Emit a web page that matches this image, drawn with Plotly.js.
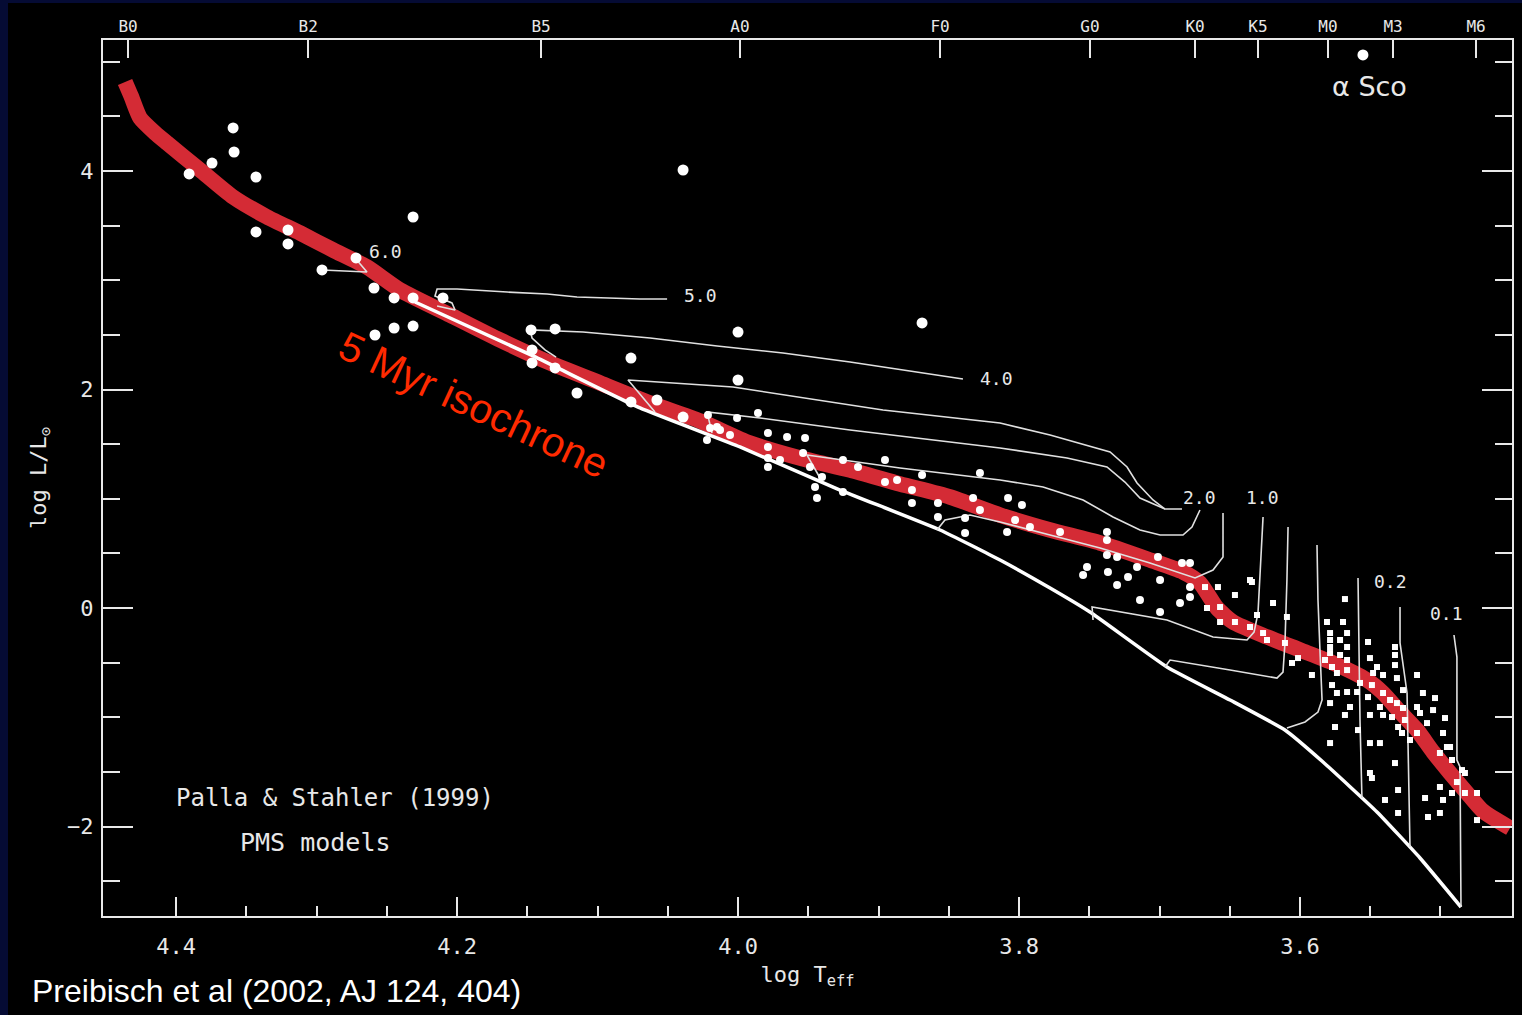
<!DOCTYPE html>
<html>
<head>
<meta charset="utf-8">
<script src="https://cdn.plot.ly/plotly-3.0.1.min.js"></script>
<style>
  html, body { margin: 0; padding: 0; width: 1522px; height: 1015px; overflow: hidden; background: #050b34; }
  #hrd { position: absolute; left: 8px; top: 3px; width: 1514px; height: 1012px; }
</style>
</head>
<body>
<div id="hrd"></div>
<script>
// 5 Myr isochrone (log Teff, log L/Lsun)
const isoLogT = [4.4363,4.4320,4.4256,4.4149,4.4064,4.3829,4.3594,4.3352,4.3117,4.2883,4.2641,4.2406,4.2050,4.1694,4.1338,4.0982,4.0626,4.0270,3.9915,3.9559,3.9203,3.8847,3.8491,3.8135,3.7779,3.7423,3.7068,3.6833,3.6712,3.6591,3.6477,3.6235,3.6000,3.5765,3.5523,3.5409,3.5288,3.5167,3.5053,3.4932,3.4811,3.4698,3.4505];
const isoLogL = [4.815,4.686,4.485,4.348,4.256,4.009,3.762,3.579,3.432,3.277,3.121,2.911,2.682,2.453,2.243,2.059,1.876,1.712,1.510,1.373,1.263,1.135,1.016,0.851,0.714,0.595,0.439,0.330,0.229,0.000,-0.128,-0.265,-0.384,-0.503,-0.659,-0.778,-0.952,-1.117,-1.318,-1.510,-1.693,-1.858,-2.014];

// Zero-age main sequence
const zamsLogT = [4.2299,4.1459,4.0698,3.9986,3.9274,3.8562,3.8135,3.7779,3.7495,3.6947,3.6498,3.6107,3.5836,3.5452,3.5146,3.4854];
const zamsLogL = [2.801,2.307,1.831,1.474,1.080,0.714,0.439,0.183,-0.037,-0.540,-0.842,-1.117,-1.410,-1.867,-2.288,-2.737];

// Palla & Stahler (1999) pre-main-sequence tracks, one pair per mass
const track6T = [4.2961,4.2641,4.2726];
const track6L = [3.094,3.076,3.204];
const track5T = [4.0505,4.0698,4.1146,4.1359,4.1644,4.2000,4.2142,4.2157,4.2036,4.2014,4.2142];
const track5L = [2.828,2.828,2.847,2.874,2.892,2.920,2.920,2.856,2.792,2.728,2.764];
const track4T = [3.8399,3.8726,3.9203,3.9680,4.0149,4.0626,4.1103,4.1480,4.1466,4.1374,4.1295];
const track4L = [2.096,2.160,2.252,2.334,2.398,2.471,2.526,2.545,2.471,2.362,2.297];
const track3T = [4.0591,4.0783,4.0036,3.8968,3.8135,3.7779,3.7352,3.7231,3.7160,3.7046,3.6961,3.6840];
const track3L = [1.794,2.087,2.023,1.812,1.693,1.584,1.428,1.291,1.144,0.989,0.906,0.906];
const track25T = [4.0185,4.0221,3.9843,3.9203,3.8135,3.7658,3.7374,3.7246,3.7139,3.6961];
const track25L = [1.602,1.794,1.739,1.629,1.465,1.373,1.291,1.153,1.007,0.906];
const track2T = [3.9416,3.9509,3.8847,3.8135,3.7829,3.7544,3.7331,3.7139,3.6996,3.6833,3.6769,3.6733,3.6712];
const track2L = [1.190,1.400,1.281,1.172,1.108,0.989,0.833,0.714,0.668,0.668,0.741,0.833,0.897];
const track15T = [3.6548,3.6548,3.6619,3.6747,3.7068,3.7423,3.7779,3.8135,3.8349,3.8527,3.8584];
const track15L = [0.870,0.467,0.348,0.275,0.412,0.549,0.668,0.787,0.851,0.805,0.714];
const track1T = [3.7473,3.7480,3.6947,3.6619,3.6377,3.6327,3.6299,3.6285,3.6270,3.6263];
const track1L = [-0.110,0.009,-0.110,-0.265,-0.293,-0.220,-0.046,0.256,0.622,0.833];
const track07T = [3.6961,3.6925,3.6498,3.6164,3.6121,3.6107,3.6093,3.6085];
const track07L = [-0.540,-0.476,-0.568,-0.641,-0.586,-0.320,0.256,0.741];
const track05T = [3.5879,3.5872,3.5858,3.5843,3.5872,3.5964,3.6093];
const track05L = [0.577,0.073,-0.384,-0.842,-0.952,-1.043,-1.098];
const track03T = [3.5587,3.5580,3.5573,3.5559];
const track03L = [0.275,-0.384,-1.025,-1.739];
const track02T = [3.5288,3.5288,3.5238,3.5231,3.5217];
const track02L = [0.009,-0.320,-0.778,-1.391,-2.188];
const track01T = [3.4904,3.4883,3.4883,3.4861,3.4854];
const track01L = [-0.247,-0.449,-1.391,-1.455,-2.737];

// Mass labels written next to the tracks (solar masses)
const massLabelText = ['6.0','5.0','4.0','2.0','1.0','0.2','0.1'];
const massLabelLogT = [4.2512,4.0270,3.8157,3.6712,3.6270,3.5359,3.4954];
const massLabelLogL = [3.259,2.856,2.105,1.007,1.007,0.247,-0.046];

// Upper Sco members: B stars
const brightLogT = [4.3594,4.3587,4.3744,4.3907,4.3431,4.2313,4.3431,4.3203,4.3203,4.2719,4.2961,4.2591,4.2448,4.2313,4.2100,4.2584,4.2448,4.2313,4.0391,4.1473,4.1302,4.1466,4.1466,4.1302,4.1146,4.0762,4.0762,4.0577,4.0391,4.0000,3.8690,4.0000];
const brightLogL = [4.394,4.174,4.073,3.973,3.945,3.579,3.442,3.460,3.332,3.204,3.094,2.929,2.838,2.838,2.838,2.499,2.563,2.581,4.009,2.545,2.554,2.362,2.243,2.197,1.968,2.288,1.886,1.904,1.748,2.526,2.609,2.087];

// Upper Sco members: A to K stars
const midLogT = [4.0214,3.9858,4.0221,4.0150,4.0007,4.0128,4.0057,4.0199,3.9787,3.9787,3.9787,3.9787,3.9651,3.9523,3.9537,3.9701,3.9488,3.9402,3.9452,3.9438,3.9253,3.9146,3.8954,3.9253,3.8954,3.8868,3.8690,3.8762,3.8762,3.8577,3.8577,3.8384,3.8384,3.8327,3.8278,3.8278,3.8078,3.7979,3.8085,3.8028,3.7922,3.7708,3.7374,3.7374,3.7374,3.7302,3.7516,3.7544,3.7367,3.7302,3.7224,3.7160,3.7011,3.6996,3.7139,3.6996,3.6854,3.6840,3.6783,3.6783,3.6783];
const midLogL = [1.767,1.785,1.538,1.657,1.739,1.629,1.584,1.648,1.602,1.474,1.373,1.291,1.565,1.556,1.419,1.355,1.291,1.199,1.108,1.007,1.355,1.291,1.355,1.062,1.153,1.172,1.217,1.080,0.961,0.961,0.833,0.824,0.687,1.007,1.236,0.897,1.007,0.943,0.696,0.805,0.741,0.696,0.696,0.622,0.485,0.467,0.375,0.302,0.330,0.211,0.284,0.375,0.467,0.256,0.073,-0.037,0.046,0.412,0.412,0.192,0.101];

// Upper Sco members: late K and M stars
const faintLogT = [3.6676,3.6662,3.6584,3.6569,3.6569,3.6463,3.6463,3.6342,3.6356,3.6356,3.6192,3.6306,3.6263,3.6235,3.6093,3.6107,3.6057,3.6014,3.5915,3.5808,3.5786,3.5786,3.5786,3.5786,3.5822,3.5772,3.5715,3.5715,3.5694,3.5665,3.5665,3.5665,3.5665,3.5737,3.5680,3.5772,3.5737,3.5665,3.5786,3.5644,3.5680,3.5751,3.5786,3.5594,3.5573,3.5516,3.5502,3.5480,3.5488,3.5452,3.5516,3.5502,3.5587,3.5502,3.5431,3.5488,3.5324,3.5324,3.5324,3.5409,3.5310,3.5409,3.5359,3.5431,3.5310,3.5409,3.5345,3.5267,3.5267,3.5253,3.5302,3.5274,3.5217,3.5167,3.5125,3.5167,3.5039,3.5146,3.5053,3.5096,3.5167,3.4982,3.4968,3.4954,3.5004,3.4932,3.4918,3.4847,3.4826,3.4883,3.4826,3.4740,3.4740,3.5004,3.4982,3.5004,3.4918,3.5089,3.5110,3.5302,3.5302,3.5324,3.5502,3.5395];
const faintLogL = [0.192,0.000,0.192,0.009,-0.128,0.119,-0.128,0.238,0.256,-0.174,0.046,-0.064,-0.229,-0.293,-0.082,-0.320,-0.503,-0.458,-0.613,-0.128,-0.229,-0.293,-0.357,-0.412,-0.476,-0.540,-0.293,-0.430,-0.128,-0.229,-0.357,-0.476,-0.568,-0.595,0.082,-0.705,-0.778,-0.769,-0.870,-0.906,-0.979,-1.089,-1.236,-0.769,-0.686,-0.311,-0.458,-0.595,-0.705,-0.540,-0.815,-0.979,-1.117,-1.236,-1.236,-1.556,-0.357,-0.430,-0.522,-0.613,-0.641,-0.778,-0.842,-0.906,-0.870,-0.979,-0.998,-0.751,-0.915,-1.025,-1.089,-1.144,-1.208,-0.613,-0.778,-0.906,-0.824,-0.961,-0.934,-1.053,-1.144,-1.144,-1.007,-1.272,-1.327,-1.272,-1.391,-1.483,-1.510,-1.593,-1.693,-1.693,-1.941,-1.638,-1.757,-1.876,-1.693,-1.913,-1.739,-1.666,-1.876,-1.419,-1.510,-1.757];

// Antares
const alphaScoLogT = [3.5552];
const alphaScoLogL = [5.062];

// Axes: ticks and spectral-type scale
const xTickVals = [4.4, 4.2, 4.0, 3.8, 3.6];
const xTickText = ['4.4', '4.2', '4.0', '3.8', '3.6'];
const xMinorVals = [4.35, 4.3, 4.25, 4.15, 4.1, 4.05, 3.95, 3.9, 3.85, 3.75, 3.7, 3.65, 3.55, 3.5];
const yTickVals = [-2, 0, 2, 4];
const yTickText = ['\u22122', '0', '2', '4'];
const yMinorVals = [-2.5, -1.5, -1, -0.5, 0.5, 1, 1.5, 2.5, 3, 3.5, 4.5, 5];
const spTypeLabels = ['B0','B2','B5','A0','F0','G0','K0','K5','M0','M3','M6'];
const spTypeLogT = [4.4342,4.3060,4.1402,3.9986,3.8562,3.7495,3.6747,3.6299,3.5801,3.5338,3.4747];

const ink = '#e8e8e8';
const mono = "'DejaVu Sans Mono', monospace";

const trackPairs = [
  [track6T, track6L], [track5T, track5L], [track4T, track4L], [track3T, track3L],
  [track25T, track25L], [track2T, track2L], [track15T, track15L], [track1T, track1L],
  [track07T, track07L], [track05T, track05L], [track03T, track03L], [track02T, track02L],
  [track01T, track01L]
];

const traces = [];
traces.push({
  x: isoLogT, y: isoLogL, mode: 'lines', type: 'scatter',
  line: { color: '#d42b35', width: 15.5, shape: 'spline', smoothing: 0.6 },
  hoverinfo: 'skip'
});
traces.push({
  x: zamsLogT, y: zamsLogL, mode: 'lines', type: 'scatter',
  line: { color: '#ffffff', width: 3.5, shape: 'spline', smoothing: 0.4 },
  hoverinfo: 'skip'
});
trackPairs.forEach(([t, l]) => {
  traces.push({
    x: t, y: l, mode: 'lines', type: 'scatter',
    line: { color: '#e0e0e0', width: 1.6 },
    hoverinfo: 'skip'
  });
});
traces.push({
  x: brightLogT, y: brightLogL, mode: 'markers', type: 'scatter',
  marker: { color: '#ffffff', size: 11, symbol: 'circle', line: { width: 0 } }
});
traces.push({
  x: midLogT, y: midLogL, mode: 'markers', type: 'scatter',
  marker: { color: '#ffffff', size: 8, symbol: 'circle', line: { width: 0 } }
});
traces.push({
  x: faintLogT, y: faintLogL, mode: 'markers', type: 'scatter',
  marker: { color: '#ffffff', size: 6, symbol: 'square', line: { width: 0 } }
});
traces.push({
  x: alphaScoLogT, y: alphaScoLogL, xaxis: 'x2', mode: 'markers', type: 'scatter',
  marker: { color: '#ffffff', size: 11, symbol: 'circle', line: { width: 0 } }
});

const annotations = massLabelText.map((t, i) => ({
  x: massLabelLogT[i], y: massLabelLogL[i], xref: 'x', yref: 'y',
  text: t, showarrow: false, font: { family: mono, size: 18, color: ink }
}));
annotations.push(
  { x: 3.5502, y: 4.769, xref: 'x', yref: 'y', text: '\u03b1 Sco', showarrow: false,
    font: { family: "'DejaVu Sans', sans-serif", size: 27, color: ink } },
  { x: 4.2868, y: -1.739, xref: 'x', yref: 'y', text: 'Palla &amp; Stahler (1999)', showarrow: false,
    font: { family: mono, size: 24, color: ink } },
  { x: 4.3011, y: -2.142, xref: 'x', yref: 'y', text: 'PMS models', showarrow: false,
    font: { family: mono, size: 25, color: ink } },
  { x: 4.188, y: 1.86, xref: 'x', yref: 'y', text: '5 Myr isochrone', showarrow: false,
    textangle: 25, font: { family: "'Liberation Sans', Arial, sans-serif", size: 41, color: '#ff2a00' } },
  { x: -0.0518, y: -0.0856, xref: 'paper', yref: 'paper', xanchor: 'left', yanchor: 'middle',
    text: 'Preibisch et al (2002, AJ 124, 404)', showarrow: false,
    font: { family: "'Liberation Sans', Arial, sans-serif", size: 32, color: '#ffffff' } }
);

const axisLine = { showline: true, linecolor: ink, linewidth: 2, showgrid: false, zeroline: false };

const layout = {
  width: 1514, height: 1012,
  margin: { l: 95, r: 10, t: 37, b: 99 },
  paper_bgcolor: '#000000', plot_bgcolor: '#000000',
  showlegend: false,
  xaxis: Object.assign({}, axisLine, {
    range: [4.452, 3.4491],
    tickmode: 'array', tickvals: xTickVals, ticktext: xTickText,
    ticks: 'inside', ticklen: 19, tickwidth: 2, tickcolor: ink,
    tickfont: { family: mono, size: 22, color: ink }, ticklabelstandoff: 10,
    minor: { tickmode: 'array', tickvals: xMinorVals, ticks: 'inside', ticklen: 10, tickwidth: 2, tickcolor: ink, showgrid: false },
    title: { text: 'log T<sub>eff</sub>', font: { family: mono, size: 22, color: ink }, standoff: 8 }
  }),
  xaxis2: Object.assign({}, axisLine, {
    overlaying: 'x', matches: 'x', side: 'top',
    tickmode: 'array', tickvals: spTypeLogT, ticktext: spTypeLabels,
    ticks: 'inside', ticklen: 18, tickwidth: 2, tickcolor: ink,
    tickfont: { family: mono, size: 16, color: ink }, ticklabelstandoff: 0
  }),
  yaxis: Object.assign({}, axisLine, {
    range: [-2.819, 5.199], mirror: 'ticks',
    tickmode: 'array', tickvals: yTickVals, ticktext: yTickText,
    ticks: 'inside', ticklen: 30, tickwidth: 2, tickcolor: ink,
    tickfont: { family: mono, size: 22, color: ink }, ticklabelstandoff: 3,
    minor: { tickmode: 'array', tickvals: yMinorVals, ticks: 'inside', ticklen: 17, tickwidth: 2, tickcolor: ink, showgrid: false },
    title: { text: 'log L/L<sub>\u2299</sub>', font: { family: mono, size: 22, color: ink }, standoff: 14 }
  }),
  annotations: annotations
};

Plotly.newPlot('hrd', traces, layout, { staticPlot: true, displayModeBar: false });
</script>
</body>
</html>
